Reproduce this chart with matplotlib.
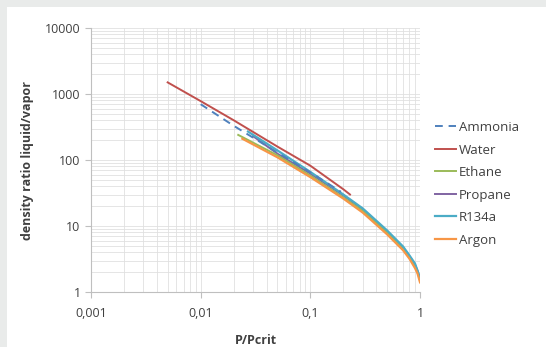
import matplotlib
matplotlib.use("Agg")
import matplotlib.pyplot as plt
from matplotlib.patches import Rectangle
from matplotlib.ticker import LogLocator, FixedLocator

plt.rcParams['font.family'] = ['Open Sans', 'DejaVu Sans']

# data (P/Pcrit vs density ratio)
ammonia_x = [0.01, 0.02, 0.05, 0.1, 0.19]
ammonia_y = [700, 330, 130, 65, 33]

water_x = [0.005, 0.01, 0.02, 0.05, 0.1, 0.2, 0.23]
water_y = [1500, 780, 400, 160, 82, 36, 30]

ethane_x = [0.022, 0.05, 0.1, 0.2, 0.3, 0.5, 0.7, 0.8, 0.9, 0.95, 1.0]
ethane_y = [240, 118, 58, 27, 17, 8.0, 4.5, 3.4, 2.5, 2.0, 1.5]

propane_x = [0.03, 0.05, 0.1, 0.2, 0.3, 0.5, 0.7, 0.8, 0.9, 0.95, 1.0]
propane_y = [230, 125, 62, 29, 18, 8.3, 4.7, 3.5, 2.6, 2.1, 1.6]

r134a_x = [0.027, 0.05, 0.1, 0.2, 0.3, 0.5, 0.7, 0.8, 0.9, 0.95, 1.0]
r134a_y = [270, 140, 66, 30, 18.5, 8.6, 4.9, 3.6, 2.7, 2.1, 1.6]

argon_x = [0.024, 0.05, 0.1, 0.2, 0.3, 0.5, 0.7, 0.8, 0.9, 0.95, 1.0]
argon_y = [210, 110, 55, 26, 16, 7.5, 4.3, 3.2, 2.3, 1.9, 1.4]

x_ticks = [0.001, 0.01, 0.1, 1]
x_labels = ["0,001", "0,01", "0,1", "1"]
y_ticks = [1, 10, 100, 1000, 10000]
y_labels = ["1", "10", "100", "1000", "10000"]

fig = plt.figure(figsize=(5.46, 3.47), dpi=100)
fig.patch.set_facecolor("#e9ebea")
# white panel inside the gray frame
panel = Rectangle((7 / 546, 0), 1, 1 - 7 / 347, transform=fig.transFigure,
                  facecolor="white", edgecolor="none", zorder=-10)
fig.add_artist(panel)

ax = fig.add_axes([91 / 546, 1 - 292 / 347, (420 - 91) / 546, (292 - 28) / 347])
ax.set_zorder(1)
ax.set_xscale("log")
ax.set_yscale("log")
ax.set_xlim(0.001, 1)
ax.set_ylim(1, 10000)

ax.plot(r134a_x, r134a_y, color="#4BACC6", lw=1.6, label="R134a", zorder=3)
ax.plot(propane_x, propane_y, color="#8064A2", lw=1.4, label="Propane", zorder=2)
ax.plot(ethane_x, ethane_y, color="#9BBB59", lw=1.4, label="Ethane", zorder=2)
ax.plot(argon_x, argon_y, color="#F79646", lw=1.6, label="Argon", zorder=3)
ax.plot(water_x, water_y, color="#C0504D", lw=1.4, label="Water", zorder=4)
ax.plot(ammonia_x, ammonia_y, color="#4F81BD", lw=1.4, ls=(0, (4, 3)), label="Ammonia", zorder=5)

ax.xaxis.set_major_locator(FixedLocator(x_ticks))
ax.set_xticklabels(x_labels)
ax.yaxis.set_major_locator(FixedLocator(y_ticks))
ax.set_yticklabels(y_labels)
ax.xaxis.set_minor_locator(LogLocator(base=10, subs=range(2, 10)))
ax.yaxis.set_minor_locator(LogLocator(base=10, subs=range(2, 10)))
ax.tick_params(which="minor", length=0)
ax.tick_params(which="major", length=4, color="#bfbfbf", labelsize=9, labelcolor="#404040")
ax.tick_params(axis="x", pad=7)
ax.tick_params(axis="y", direction="out")

ax.grid(True, which="both", color="#e0e0e0", lw=0.6)
ax.set_axisbelow(True)
for s in ["top", "right"]:
    ax.spines[s].set_visible(False)
for s in ["left", "bottom"]:
    ax.spines[s].set_color("#bfbfbf")

ax.set_xlabel("P/Pcrit", fontsize=9, fontweight="bold", color="#404040", labelpad=10)
ax.set_ylabel("density ratio liquid/vapor", fontsize=9, fontweight="bold", color="#404040", labelpad=8)

handles, labels = ax.get_legend_handles_labels()
order = ["Ammonia", "Water", "Ethane", "Propane", "R134a", "Argon"]
hmap = dict(zip(labels, handles))
ax.legend([hmap[k] for k in order], order, loc="center left", bbox_to_anchor=(1.01, 0.41),
          frameon=False, fontsize=9.5, handlelength=1.6, handletextpad=0.2,
          labelspacing=0.72, labelcolor="#404040")

fig.savefig("out.png", dpi=100, facecolor=fig.get_facecolor())
